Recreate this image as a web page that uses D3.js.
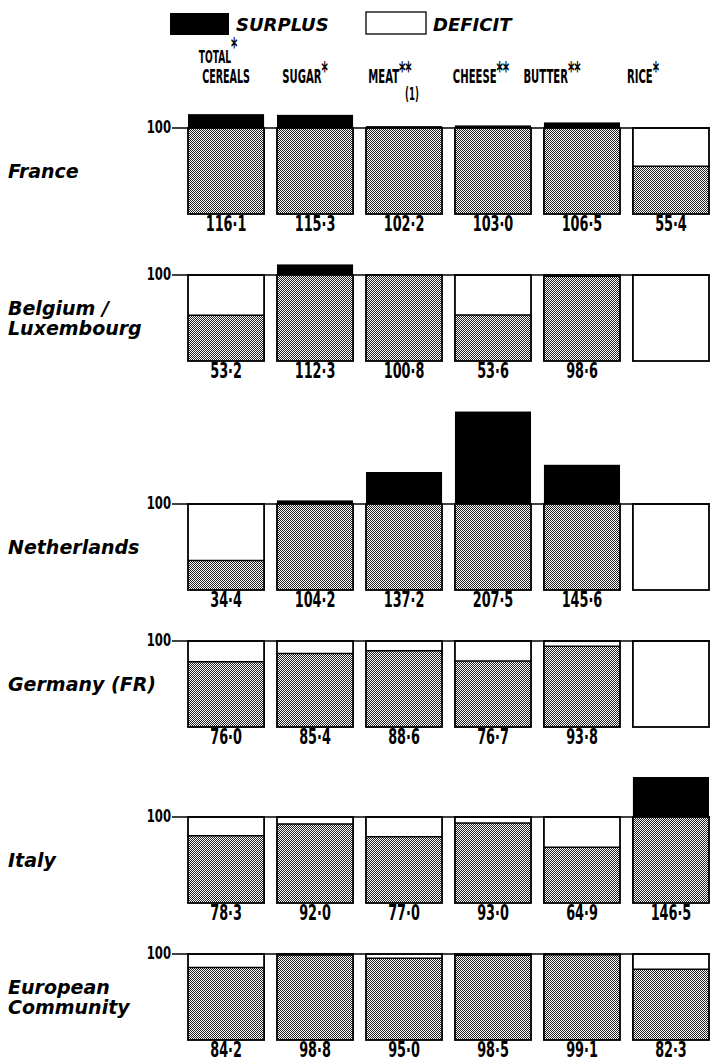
<!DOCTYPE html>
<html lang="en">
<head>
  <meta charset="UTF-8">
  <script src="https://d3js.org/d3.v7.min.js"></script>
  <style>
    body { margin: 0; background: #fff; }
    svg { display: block; }
  </style>
</head>
<body>
  <script>
    const width = 710;
    const height = 1061;

    // data
    const products = ["TOTAL CEREALS", "SUGAR", "MEAT", "CHEESE", "BUTTER", "RICE"];
    const headerLines = [["TOTAL", "CEREALS"], ["SUGAR"], ["MEAT", "(1)"], ["CHEESE"], ["BUTTER"], ["RICE"]];
    const headerStars = ["*", "*", "**", "**", "**", "*"];
    const countries = [["France"], ["Belgium /", "Luxembourg"], ["Netherlands"], ["Germany (FR)"], ["Italy"], ["European", "Community"]];
    const france      = [116.1, 115.3, 102.2, 103.0, 106.5, 55.4];
    const belgiumLux  = [53.2, 112.3, 100.8, 53.6, 98.6, null];
    const netherlands = [34.4, 104.2, 137.2, 207.5, 145.6, null];
    const germany     = [76.0, 85.4, 88.6, 76.7, 93.8, null];
    const italy       = [78.3, 92.0, 77.0, 93.0, 64.9, 146.5];
    const community   = [84.2, 98.8, 95.0, 98.5, 99.1, 82.3];
    const rows = [france, belgiumLux, netherlands, germany, italy, community];

    // header nudges relative to the column centre (the printed headers sit unevenly)
    const headerShift = [-8, -10, -14, -12, -30, -28];

    const svg = d3.select("body").append("svg")
      .attr("width", width)
      .attr("height", height);

    // halftone pattern
    const defs = svg.append("defs");
    const pat = defs.append("pattern")
      .attr("id", "dots")
      .attr("width", 2).attr("height", 2)
      .attr("patternUnits", "userSpaceOnUse");
    pat.append("rect").attr("width", 2).attr("height", 2).attr("fill", "#fff");
    pat.append("rect").attr("x", 0).attr("y", 0).attr("width", 1).attr("height", 1).attr("fill", "#222");
    pat.append("rect").attr("x", 1).attr("y", 1).attr("width", 1).attr("height", 1).attr("fill", "#222");

    const x = d3.scaleBand()
      .domain(products)
      .range([188, 709])
      .paddingInner(0.145)
      .paddingOuter(0);

    const boxH = 86;
    const y = d3.scaleLinear().domain([0, 100]).range([boxH, 0]);

    const condensed = "'Liberation Sans Narrow', 'DejaVu Sans Condensed', 'Arial Narrow', sans-serif";
    const wide = "'DejaVu Sans', Verdana, sans-serif";

    // legend
    const legend = svg.append("g");
    legend.append("rect").attr("x", 170).attr("y", 13).attr("width", 59).attr("height", 22)
      .attr("fill", "#000");
    legend.append("text").attr("x", 236).attr("y", 31)
      .attr("font-family", wide).attr("font-weight", "bold").attr("font-style", "italic")
      .attr("font-size", 18).text("SURPLUS");
    legend.append("rect").attr("x", 366).attr("y", 12).attr("width", 60).attr("height", 22)
      .attr("fill", "#fff").attr("stroke", "#000").attr("stroke-width", 1.3);
    legend.append("text").attr("x", 433).attr("y", 31)
      .attr("font-family", wide).attr("font-weight", "bold").attr("font-style", "italic")
      .attr("font-size", 18).text("DEFICIT");

    // column headers
    const hScale = 0.56;
    products.forEach((p, i) => {
      const cx = x(p) + x.bandwidth() / 2 + headerShift[i];
      const lines = headerLines[i];
      const g = svg.append("g").attr("transform", `translate(${cx},0) scale(${hScale},1)`);
      const firstBase = i === 0 ? 63 : 83;
      const fs = i === 0 ? 18 : 20;
      const t = g.append("text")
        .attr("y", firstBase)
        .attr("text-anchor", "middle")
        .attr("font-family", condensed)
        .attr("font-weight", "bold")
        .attr("font-size", fs);
      t.append("tspan").text(lines[0]);
      t.append("tspan").attr("dy", i === 0 ? -8 : -4).attr("font-size", 24).text(headerStars[i]);
      if (lines.length === 2) {
        const second = g.append("text")
          .attr("y", i === 0 ? 83 : 100)
          .attr("text-anchor", "middle")
          .attr("font-family", condensed)
          .attr("font-weight", "bold")
          .attr("font-size", i === 0 ? 19 : 17)
          .text(lines[1]);
        if (i === 2) second.attr("x", 22 / hScale);
        if (i === 0) second.attr("x", 8 / hScale);
      }
    });

    // rows, stacked from the data: each row leaves room for its tallest surplus bar
    const rowGap = 50.5;
    let baseline = 128;
    rows.forEach((vals, r) => {
      if (r > 0) {
        const maxV = d3.max(vals, v => v == null ? 100 : Math.max(v, 100));
        baseline = baseline + boxH + rowGap + (y(100) - y(maxV));
      }
      const g = svg.append("g").attr("transform", `translate(0,${Math.round(baseline)})`);

      // 100 line + label
      g.append("line")
        .attr("x1", 172).attr("x2", 710)
        .attr("y1", 0).attr("y2", 0)
        .attr("stroke", "#000").attr("stroke-width", 1.5);
      g.append("text")
        .attr("x", 0).attr("y", 0).attr("dy", "0.3em")
        .attr("text-anchor", "end")
        .attr("font-family", condensed).attr("font-weight", "bold")
        .attr("font-size", 18)
        .attr("transform", "translate(171,0) scale(0.72,1)")
        .text("100");

      // country label
      const lines = countries[r];
      const lab = g.append("text")
        .attr("x", 8)
        .attr("font-family", wide).attr("font-weight", "bold").attr("font-style", "italic")
        .attr("font-size", 19);
      lines.forEach((l, k) => {
        lab.append("tspan")
          .attr("x", 8)
          .attr("y", boxH / 2 + 7 + (k - (lines.length - 1) / 2) * 20)
          .text(l);
      });

      const cells = g.selectAll("g.cell")
        .data(products.map((p, i) => ({ p, v: vals[i] })))
        .join("g").attr("class", "cell");

      // achieved share (halftone)
      cells.filter(d => d.v != null).append("rect")
        .attr("x", d => x(d.p))
        .attr("width", x.bandwidth())
        .attr("y", d => y(Math.min(d.v, 100)))
        .attr("height", d => y(0) - y(Math.min(d.v, 100)))
        .attr("fill", "url(#dots)");

      // deficit line
      cells.filter(d => d.v != null && d.v < 100).append("line")
        .attr("x1", d => x(d.p)).attr("x2", d => x(d.p) + x.bandwidth())
        .attr("y1", d => y(d.v)).attr("y2", d => y(d.v))
        .attr("stroke", "#000").attr("stroke-width", 1.5);

      // surplus
      cells.filter(d => d.v != null && d.v > 100).append("rect")
        .attr("x", d => x(d.p))
        .attr("width", x.bandwidth())
        .attr("y", d => y(d.v))
        .attr("height", d => y(100) - y(d.v))
        .attr("fill", "#000");

      // box outline 0..100
      cells.append("rect")
        .attr("x", d => x(d.p))
        .attr("width", x.bandwidth())
        .attr("y", y(100))
        .attr("height", y(0) - y(100))
        .attr("fill", "none")
        .attr("stroke", "#000").attr("stroke-width", 1.8);

      // values
      cells.filter(d => d.v != null).append("text")
        .attr("transform", d => `translate(${x(d.p) + x.bandwidth() / 2},${y(0) + 17}) scale(0.68,1)`)
        .attr("text-anchor", "middle")
        .attr("font-family", condensed).attr("font-weight", "bold")
        .attr("font-size", 21)
        .text(d => d.v.toFixed(1).replace(".", "\u00b7"));
    });
  </script>
</body>
</html>
